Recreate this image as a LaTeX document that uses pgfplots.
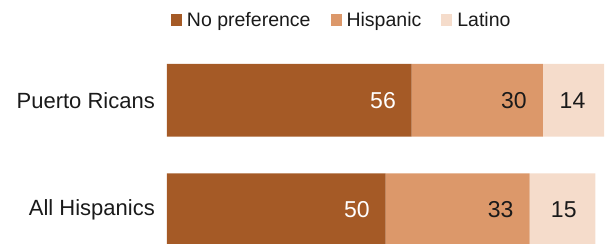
\documentclass[border=0pt]{standalone}
\usepackage{pgfplots}
\pgfplotsset{compat=1.18}
\usepackage{fontspec}
\setmainfont{Liberation Sans}
\definecolor{cA}{HTML}{A55A26}
\definecolor{cB}{HTML}{DC986A}
\definecolor{cC}{HTML}{F5DCCB}
\definecolor{txt}{HTML}{1A1A1A}
\begin{document}
\begin{tikzpicture}
\useasboundingbox (-167bp,20.4bp) rectangle (438bp,264.4bp);
\clip (-167bp,20.4bp) rectangle (438bp,264.4bp);
\begin{axis}[
  scale only axis,
  width=437bp, height=218.8bp,
  xbar stacked,
  bar width=72.7bp,
  xmin=0, xmax=100,
  ymin=-0.5, ymax=1.5,
  ytick={0,1},
  yticklabels={All Hispanics,Puerto Ricans},
  xtick=\empty,
  axis line style={draw=none},
  major tick length=0pt,
  clip=false,
  yticklabel style={font=\fontsize{22bp}{26bp}\selectfont, text=txt, inner sep=0pt, anchor=east, xshift=-12bp},
  point meta=explicit symbolic,
  visualization depends on={rawx \as \rawx},
  nodes near coords,
  every node near coord/.append style={font=\fontsize{23bp}{27bp}\selectfont, inner sep=0pt, anchor=east},
  legend columns=3,
  legend image code/.code={\fill[#1,draw=none] (0bp,-6bp) rectangle (11bp,6bp);},
  legend style={draw=none, fill=none, inner sep=0pt, outer sep=0pt,
    at={(0.00915,1.117)}, anchor=west,
    font=\fontsize{19.5bp}{23bp}\selectfont, text=txt,
    nodes={inner sep=0pt},
    /tikz/every odd column/.append style={column sep=5bp},
    /tikz/every even column/.append style={column sep=20bp}},
]
\addplot[fill=cA, draw=none, every node near coord/.append style={text=white, xshift=\rawx*2.185bp-15.7bp}]
  coordinates {(50,0) [50] (56,1) [56]};
\addplot[fill=cB, draw=none, every node near coord/.append style={text=txt, xshift=\rawx*2.185bp-16bp}]
  coordinates {(33,0) [33] (30,1) [30]};
\addplot[fill=cC, draw=none, every node near coord/.append style={text=txt, xshift=\rawx*2.185bp-18.5bp}]
  coordinates {(15,0) [15] (14,1) [14]};
\legend{No preference,Hispanic,Latino}
\end{axis}
\end{tikzpicture}
\end{document}
